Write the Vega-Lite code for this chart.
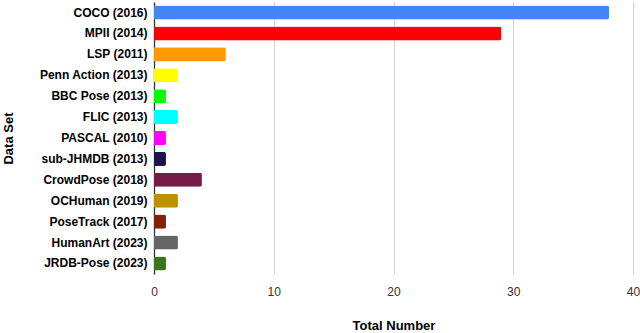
{
  "$schema": "https://vega.github.io/schema/vega-lite/v6.json",
  "width": 479,
  "height": 272,
  "autosize": "none",
  "padding": {"left": 154, "top": 2, "right": 7, "bottom": 59},
  "background": "white",
  "config": {
    "view": {"stroke": null},
    "font": "Liberation Sans"
  },
  "data": {
    "values": [
      {"name": "COCO (2016)", "value": 38, "color": "#4285F4"},
      {"name": "MPII (2014)", "value": 29, "color": "#FF0000"},
      {"name": "LSP (2011)", "value": 6, "color": "#FF9900"},
      {"name": "Penn Action (2013)", "value": 2, "color": "#FFFF00"},
      {"name": "BBC Pose (2013)", "value": 1, "color": "#00FF00"},
      {"name": "FLIC (2013)", "value": 2, "color": "#00FFFF"},
      {"name": "PASCAL (2010)", "value": 1, "color": "#FF00FF"},
      {"name": "sub-JHMDB (2013)", "value": 1, "color": "#20124D"},
      {"name": "CrowdPose (2018)", "value": 4, "color": "#741B47"},
      {"name": "OCHuman (2019)", "value": 2, "color": "#BF9000"},
      {"name": "PoseTrack (2017)", "value": 1, "color": "#85200C"},
      {"name": "HumanArt (2023)", "value": 2, "color": "#666666"},
      {"name": "JRDB-Pose (2023)", "value": 1, "color": "#38761D"}
    ]
  },
  "mark": {"type": "bar", "cornerRadiusEnd": 2},
  "encoding": {
    "y": {
      "field": "name",
      "type": "nominal",
      "sort": null,
      "scale": {"paddingInner": 0.33, "paddingOuter": 0.17},
      "axis": {
        "title": "Data Set",
        "titleFont": "Liberation Sans",
        "titleFontSize": 13,
        "titleFontWeight": "bold",
        "titleColor": "#000",
        "titleX": -139,
        "labelFont": "Liberation Sans",
        "labelFontSize": 12,
        "labelFontWeight": "bold",
        "labelColor": "#000",
        "labelPadding": 7,
        "ticks": false,
        "domainColor": "#333",
        "domainWidth": 1.3,
        "grid": false
      }
    },
    "x": {
      "field": "value",
      "type": "quantitative",
      "scale": {"domain": [0, 40], "nice": false},
      "axis": {
        "title": "Total Number",
        "titleFont": "Liberation Sans",
        "titleFontSize": 13,
        "titleFontWeight": "bold",
        "titleColor": "#000",
        "titleY": 45,
        "values": [0, 10, 20, 30, 40],
        "labelFlush": false,
        "labelFont": "Liberation Sans",
        "labelFontSize": 12,
        "labelColor": "#333",
        "labelPadding": 12,
        "ticks": false,
        "domain": false,
        "grid": true,
        "gridColor": "#d0d0d0",
        "gridWidth": 1
      }
    },
    "color": {"field": "color", "type": "nominal", "scale": null, "legend": null}
  }
}
